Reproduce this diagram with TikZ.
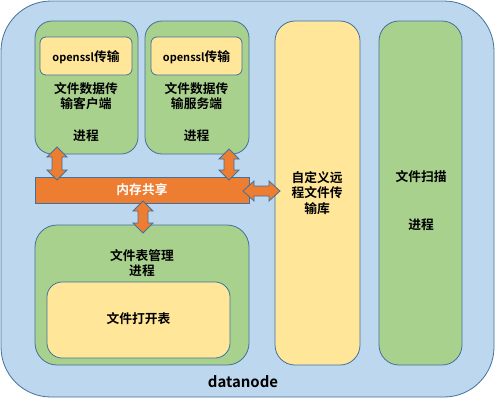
\documentclass[tikz,border=0pt]{standalone}
\usepackage{fontspec}
\setmainfont{Noto Sans CJK SC}[BoldFont={Noto Sans CJK SC Bold}]
\begin{document}
\begin{tikzpicture}[x=1bp,y=-1bp,
  bd/.style={draw=bordercol,line width=0.8bp},
  outerbox/.style={bd,fill=outerfill,rounded corners=50bp},
  greenbox/.style={bd,fill=greenfill},
  yellowbox/.style={bd,fill=yellowfill},
  orangebar/.style={bd,fill=orangefill},
  blockarrow/.style={draw=bordercol,line width=0.8bp,fill=orangefill,line join=miter},
  lbl/.style={font=\fontsize{12.8}{15.5}\selectfont\bfseries,align=center,inner sep=0pt},
]
\definecolor{outerfill}{HTML}{BDD7EE}
\definecolor{bordercol}{HTML}{41719C}
\definecolor{greenfill}{HTML}{A9D18E}
\definecolor{yellowfill}{HTML}{FFE699}
\definecolor{orangefill}{HTML}{ED7D31}
\useasboundingbox (0,0) rectangle (496,400);

% outer
\draw[outerbox] (1,1) rectangle (494,397);
\node[font=\fontsize{15}{18}\selectfont\bfseries,inner sep=0pt] (dn) at (243,382) {datanode};

% client process
\draw[greenbox,rounded corners=17bp] (35,21) rectangle (138,154);
\draw[yellowbox,rounded corners=6bp] (40,37) rectangle (132,75);
\node[lbl] (sslA) at (86,57) {{\fontsize{11}{13}\selectfont openssl}传输};
\node[lbl] (clientT) at (86,96) {文件数据传\\输客户端};
\node[lbl] (clientP) at (86,136) {进程};

% server process
\draw[greenbox,rounded corners=17bp] (145,21) rectangle (249,154);
\draw[yellowbox,rounded corners=6bp] (151,37) rectangle (242,75);
\node[lbl] (sslB) at (196.5,57) {{\fontsize{11}{13}\selectfont openssl}传输};
\node[lbl] (serverT) at (196.5,96) {文件数据传\\输服务端};
\node[lbl] (serverP) at (196.5,136) {进程};

% shared memory bar
\draw[orangebar] (35,177) rectangle (249,203);
\node[lbl,text=white] (mem) at (142,190) {内存共享};

% file table process
\draw[greenbox,rounded corners=22bp] (35,225) rectangle (249,365);
\node[lbl] (ftT) at (142,263) {文件表管理\\进程};
\draw[yellowbox,rounded corners=15bp] (47,282) rectangle (230,358);
\node[lbl] (oft) at (138.5,319) {文件打开表};

% custom remote lib
\draw[yellowbox,rounded corners=20bp] (275,21) rectangle (360,365);
\node[lbl] (lib) at (317,193) {自定义远\\程文件传\\输库};

% file scan process
\draw[greenbox,rounded corners=20bp] (379,21) rectangle (462,365);
\node[lbl] (scanT) at (421,177) {文件扫描};
\node[lbl] (scanP) at (421,225) {进程};

% block arrows
\newcommand\vdarrow[3]{%
  \draw[blockarrow] (#1,#2) -- ({#1+10},{#2+10}) -- ({#1+5},{#2+10}) -- ({#1+5},{#3-10})
   -- ({#1+10},{#3-10}) -- (#1,#3) -- ({#1-10},{#3-10}) -- ({#1-5},{#3-10})
   -- ({#1-5},{#2+10}) -- ({#1-10},{#2+10}) -- cycle;}
\newcommand\hdarrow[3]{%
  \draw[blockarrow] (#2,#1) -- ({#2+11},{#1-10}) -- ({#2+11},{#1-5}) -- ({#3-11},{#1-5})
   -- ({#3-11},{#1-10}) -- (#3,#1) -- ({#3-11},{#1+10}) -- ({#3-11},{#1+5})
   -- ({#2+11},{#1+5}) -- ({#2+11},{#1+10}) -- cycle;}
\vdarrow{57}{147}{180}
\vdarrow{229}{149}{180}
\vdarrow{143}{201}{233}
\hdarrow{191}{243}{280}
\end{tikzpicture}
\end{document}
